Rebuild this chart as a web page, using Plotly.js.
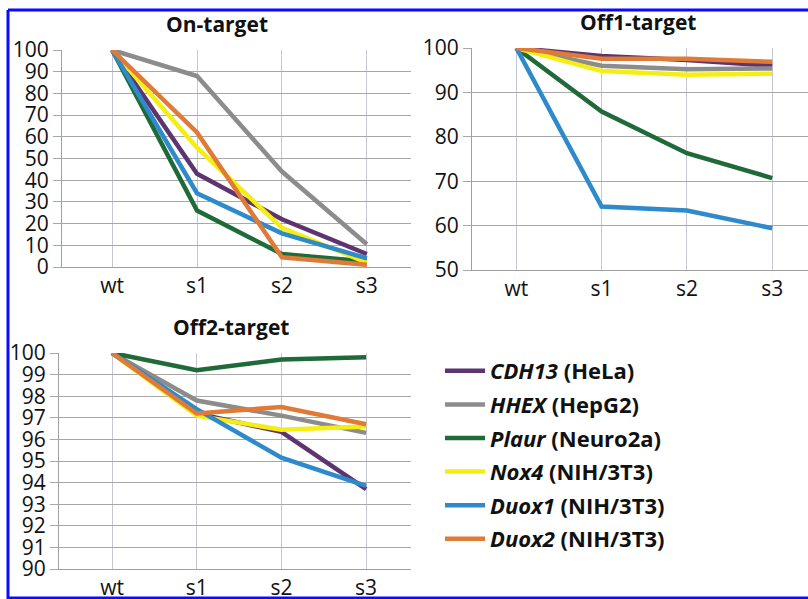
<!DOCTYPE html>
<html>
<head>
<meta charset="utf-8">
<script src="https://cdn.plot.ly/plotly-3.0.1.min.js"></script>
<style>
  html, body { margin: 0; padding: 0; background: #ffffff; }
  #chart { width: 808px; height: 599px; }
</style>
</head>
<body>
<div id="chart"></div>
<script>
// ---- data ----
const stages = ['wt', 's1', 's2', 's3'];
const seriesGenes = ['CDH13', 'HHEX', 'Plaur', 'Nox4', 'Duox1', 'Duox2'];
const seriesCells = ['HeLa', 'HepG2', 'Neuro2a', 'NIH/3T3', 'NIH/3T3', 'NIH/3T3'];

// On-target
const onCDH13 = [100, 43, 22, 6];
const onHHEX  = [100, 88, 44, 10.5];
const onPlaur = [100, 26, 6, 2.5];
const onNox4  = [100, 55, 18, 2];
const onDuox1 = [100, 34, 15.5, 4];
const onDuox2 = [100, 62, 4.5, 1];

// Off1-target
const off1CDH13 = [100, 98.2, 97.3, 96.0];
const off1HHEX  = [100, 96.0, 95.2, 95.4];
const off1Plaur = [100, 85.7, 76.3, 70.7];
const off1Nox4  = [100, 94.8, 94.0, 94.2];
const off1Duox1 = [100, 64.3, 63.4, 59.4];
const off1Duox2 = [100, 97.6, 97.6, 96.9];

// Off2-target
const off2CDH13 = [100, 97.2, 96.35, 93.7];
const off2HHEX  = [100, 97.8, 97.1, 96.3];
const off2Plaur = [100, 99.2, 99.7, 99.8];
const off2Nox4  = [100, 97.1, 96.45, 96.6];
const off2Duox1 = [100, 97.4, 95.15, 93.85];
const off2Duox2 = [100, 97.2, 97.5, 96.7];

// ---- styles ----
const colors = ['#5e3470', '#8c8c8c', '#1e6a38', '#f4ee12', '#2e8acb', '#e07b37'];
const panels = [
  { data: [onCDH13, onHHEX, onPlaur, onNox4, onDuox1, onDuox2], xa: 'x', ya: 'y' },
  { data: [off1CDH13, off1HHEX, off1Plaur, off1Nox4, off1Duox1, off1Duox2], xa: 'x2', ya: 'y2' },
  { data: [off2CDH13, off2HHEX, off2Plaur, off2Nox4, off2Duox1, off2Duox2], xa: 'x3', ya: 'y3' }
];

const traces = [];
panels.forEach(function (p, pi) {
  p.data.forEach(function (vals, si) {
    traces.push({
      type: 'scatter',
      mode: 'lines',
      x: stages,
      y: vals,
      xaxis: p.xa,
      yaxis: p.ya,
      name: '<i>' + seriesGenes[si] + '</i> (' + seriesCells[si] + ')',
      legendgroup: 'g' + si,
      showlegend: pi === 0,
      cliponaxis: false,
      line: { color: colors[si], width: 4.5 },
      hoverinfo: 'skip'
    });
  });
});

const W = 808, H = 599;
const tickFont = { family: 'Open Sans', size: 21, color: '#111111' };
const titleFont = { family: 'Open Sans', size: 21, color: '#111111', weight: 'bold' };

function xAxis(domain, range, anchor) {
  return {
    domain: domain, range: range, type: 'category', anchor: anchor,
    showgrid: true, gridcolor: '#c6c6d4', gridwidth: 1,
    showline: true, linecolor: '#a0a0a0', linewidth: 1,
    ticks: '', tickfont: tickFont, zeroline: false, fixedrange: true
  };
}
function yAxis(domain, range, dtick, anchor) {
  return {
    domain: domain, range: range, dtick: dtick, anchor: anchor,
    showgrid: true, gridcolor: '#a8a8a8', gridwidth: 1,
    showline: true, linecolor: '#a0a0a0', linewidth: 1,
    ticks: 'outside', ticklen: 8, tickcolor: '#a8a8a8',
    tickfont: tickFont, zeroline: false, fixedrange: true
  };
}

const layout = {
  width: W, height: H,
  margin: { l: 0, r: 0, t: 0, b: 0 },
  paper_bgcolor: '#ffffff', plot_bgcolor: '#ffffff',
  showlegend: true,
  xaxis:  xAxis([62 / W, 411 / W], [-0.59, 3.52], 'y'),
  yaxis:  yAxis([1 - 267 / H, 1 - 50 / H], [0, 100], 10, 'x'),
  xaxis2: xAxis([472 / W, 1], [-0.52, 3.42], 'y2'),
  yaxis2: yAxis([1 - 270 / H, 1 - 48 / H], [50, 100], 10, 'x2'),
  xaxis3: xAxis([59 / W, 411 / W], [-0.626, 3.53], 'y3'),
  yaxis3: yAxis([1 - 569 / H, 1 - 353 / H], [90, 100], 1, 'x3'),
  legend: {
    x: 440 / W, y: 1 - 350 / H, xanchor: 'left', yanchor: 'top',
    font: { family: 'Open Sans', size: 22, color: '#111111', weight: 'bold' },
    bgcolor: 'rgba(0,0,0,0)', tracegroupgap: 2, itemwidth: 40
  },
  annotations: [
    { text: 'On-target', x: 217 / W, y: 1 - 24 / H, xref: 'paper', yref: 'paper', showarrow: false, font: titleFont, xanchor: 'center', yanchor: 'middle' },
    { text: 'Off1-target', x: 638 / W, y: 1 - 22 / H, xref: 'paper', yref: 'paper', showarrow: false, font: titleFont, xanchor: 'center', yanchor: 'middle' },
    { text: 'Off2-target', x: 231 / W, y: 1 - 327 / H, xref: 'paper', yref: 'paper', showarrow: false, font: titleFont, xanchor: 'center', yanchor: 'middle' }
  ],
  shapes: [
    { type: 'line', xref: 'paper', yref: 'paper', x0: 8 / W, x1: 8 / W, y0: 1 - 10 / H, y1: 0, line: { color: '#0a0aff', width: 3 }, layer: 'above' },
    { type: 'line', xref: 'paper', yref: 'paper', x0: 8 / W, x1: 1, y0: 1 - 10 / H, y1: 1 - 10 / H, line: { color: '#0a0aff', width: 3 }, layer: 'above' },
    { type: 'line', xref: 'paper', yref: 'paper', x0: 8 / W, x1: 1, y0: 1 - 598 / H, y1: 1 - 598 / H, line: { color: '#0a0aff', width: 3 }, layer: 'above' }
  ]
};

Plotly.newPlot('chart', traces, layout, { staticPlot: true, displayModeBar: false });
</script>
</body>
</html>
